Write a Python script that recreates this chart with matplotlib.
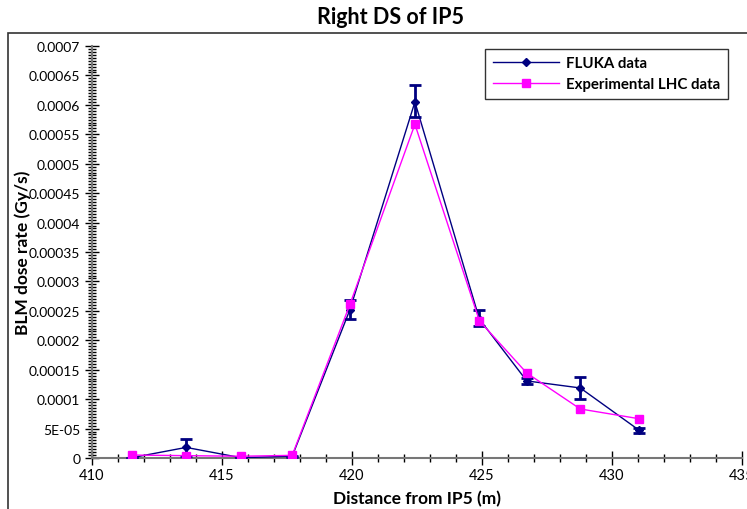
import matplotlib
matplotlib.use("Agg")
import matplotlib.pyplot as plt
from matplotlib.ticker import MultipleLocator, FuncFormatter
from matplotlib.patches import Rectangle

# distance from IP5 (m)
distance = [411.53, 413.62, 415.73, 417.70, 419.92, 422.42, 424.90, 426.72, 428.78, 431.03]

# FLUKA simulation (Gy/s) with asymmetric error bars
fluka = [0.5e-6, 1.8e-5, 0.5e-6, 3e-6, 0.000252, 0.000605, 0.000236, 0.000131, 0.000119, 0.0000476]
fluka_hi = [0.5e-6, 3.2e-5, 0.5e-6, 3.5e-6, 0.000269, 0.000633, 0.000252, 0.0001354, 0.0001376, 0.000051]
fluka_lo = [0.0, 0.4e-5, 0.0, 2.5e-6, 0.000236, 0.000579, 0.000224, 0.000125, 0.0000997, 0.000043]

# measured BLM signal (Gy/s)
lhc = [5e-6, 4e-6, 3e-6, 4.5e-6, 0.000261, 0.000567, 0.000233, 0.0001444, 0.0000833, 0.0000668]

plt.rcParams.update({
    "font.family": ["Lato", "DejaVu Sans"],
    "font.size": 10,
})

fig = plt.figure(figsize=(7.47, 5.10), dpi=100)
ax = fig.add_axes([92 / 747, 1 - 459 / 510, 650 / 747, 412 / 510])

# outer chart frame
fig.patches.append(Rectangle((8 / 747, -0.05), 1.05, 1 - 34 / 510 + 0.05,
                             transform=fig.transFigure, fill=False,
                             edgecolor='#333333', linewidth=1.2))

navy = '#000080'
pink = '#ff00ff'

err_lo = [f - l for f, l in zip(fluka, fluka_lo)]
err_hi = [h - f for f, h in zip(fluka, fluka_hi)]

ax.errorbar(distance, fluka, yerr=[err_lo, err_hi], fmt='none', ecolor=navy,
            elinewidth=2, capsize=4, capthick=2, zorder=3)
ax.plot(distance, fluka, color=navy, linewidth=1, marker='D', markersize=4,
        label='FLUKA data', zorder=4)
ax.plot(distance, lhc, color=pink, linewidth=1, marker='s', markersize=6,
        label='Experimental LHC data', zorder=5)

ax.set_xlim(410, 435)
ax.set_ylim(0, 0.0007)
ax.xaxis.set_major_locator(MultipleLocator(5))
ax.xaxis.set_minor_locator(MultipleLocator(1))
ax.yaxis.set_major_locator(MultipleLocator(0.00005))
ax.yaxis.set_minor_locator(MultipleLocator(0.000005))

def yfmt(v, pos):
    if abs(v) < 1e-12:
        return '0'
    if abs(v - 0.00005) < 1e-9:
        return '5E-05'
    return ('%.5f' % v).rstrip('0')

ax.yaxis.set_major_formatter(FuncFormatter(yfmt))

for s in ['top', 'right']:
    ax.spines[s].set_visible(False)
for s in ['left', 'bottom']:
    ax.spines[s].set_color('#777777')
    ax.spines[s].set_linewidth(1.5)

ax.tick_params(which='major', direction='inout', length=10, width=1, colors='black',
               labelsize=10)
ax.tick_params(which='minor', direction='inout', length=6, width=1, colors='black')
ax.tick_params(axis='x', pad=2, labelsize=10.5)

ax.set_xlabel('Distance from IP5 (m)', fontsize=12.5, fontweight='bold', labelpad=6)
ax.set_ylabel('BLM dose rate (Gy/s)', fontsize=12.5, fontweight='bold')
ax.yaxis.set_label_coords(-0.094, 0.5)
fig.text(390 / 747, 1 - 17 / 510, 'Right DS of IP5', ha='center', va='center',
         fontsize=15.5, fontweight='bold')

leg = ax.legend(loc='upper left', bbox_to_anchor=(485 / 747, 1 - 50 / 510),
                bbox_transform=fig.transFigure, borderaxespad=0,
                frameon=True, fancybox=False, edgecolor='black', fontsize=10.8,
                handlelength=4.4, handletextpad=0.5, borderpad=0.5, labelspacing=0.45)
for t in leg.get_texts():
    t.set_fontweight('bold')
leg.get_frame().set_linewidth(1)

fig.savefig('out.png', dpi=100)
